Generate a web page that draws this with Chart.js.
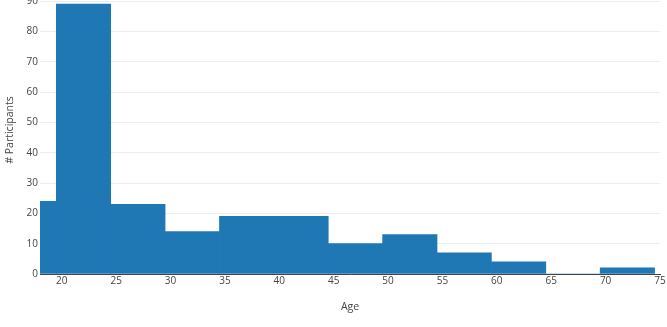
<!DOCTYPE html>
<html>
<head>
<meta charset="utf-8">
<script src="https://cdn.jsdelivr.net/npm/chart.js@4/dist/chart.umd.min.js"></script>
<style>
    html, body { margin: 0; padding: 0; background: #fff; overflow: hidden; }
    #wrap { position: absolute; left: 0; top: -14px; width: 667px; height: 341px; }
</style>
</head>
<body>
<div id="wrap"><canvas id="chart" width="667" height="341"></canvas></div>
<script>
/* Age histogram: participants per 5-year bin. Top of the plot is cropped
   above the window, as in the source screenshot. */
(function () {
    "use strict";

    // bins start at x.5 (plotly style); first bin is partly outside the axis
    var binStarts = [14.5, 19.5, 24.5, 29.5, 34.5, 39.5, 44.5, 49.5, 54.5, 59.5, 64.5, 69.5];
    var binWidth = 5;
    var counts = [24, 89, 23, 14, 19, 19, 10, 13, 7, 4, 0, 2];
    var xTicks = [20, 25, 30, 35, 40, 45, 50, 55, 60, 65, 70, 75];
    var yTicks = [0, 10, 20, 30, 40, 50, 60, 70, 80, 90];

    var points = binStarts.map(function (s, i) {
        return { x: s + binWidth / 2, y: counts[i] };
    });

    Chart.defaults.font.family = "'Open Sans', sans-serif";
    Chart.defaults.color = "#444";

    function toTicks(list) {
        return list.map(function (v) {
            return { value: v };
        });
    }

    new Chart(document.getElementById("chart"), {
        type: "bar",
        data: {
            datasets: [
                {
                    data: points,
                    backgroundColor: "#1f77b4",
                    borderWidth: 0,
                    barPercentage: 1,
                    categoryPercentage: 1
                }
            ]
        },
        options: {
            responsive: false,
            animation: false,
            layout: { padding: { left: 0, right: 7, top: 0, bottom: 0 } },
            plugins: { legend: { display: false }, tooltip: { enabled: false } },
            scales: {
                x: {
                    type: "linear",
                    min: 18,
                    max: 75,
                    offset: false,
                    grid: { display: false, drawTicks: false, offset: false },
                    border: { display: true, color: "#444", width: 1 },
                    ticks: { font: { size: 10 }, padding: 1, maxRotation: 0 },
                    title: {
                        display: true,
                        text: "Age",
                        font: { size: 10.5 },
                        padding: { top: 0, bottom: 14 }
                    },
                    afterBuildTicks: function (scale) {
                        scale.ticks = toTicks(xTicks);
                    },
                    afterFit: function (scale) {
                        scale.height = 53;
                        scale.paddingLeft = 0;
                        scale.paddingRight = 0;
                    }
                },
                y: {
                    min: 0,
                    max: 95,
                    grid: { color: "#eee", drawTicks: false },
                    border: { display: false },
                    ticks: { font: { size: 10 }, padding: 2 },
                    title: {
                        display: true,
                        text: "# Participants",
                        font: { size: 10.5 },
                        padding: { top: 4, bottom: 0 }
                    },
                    afterBuildTicks: function (scale) {
                        scale.ticks = toTicks(yTicks);
                    },
                    afterFit: function (scale) {
                        scale.width = 40;
                        scale.paddingTop = 0;
                        scale.paddingBottom = 0;
                    }
                }
            }
        }
    });
})();
</script>
</body>
</html>
